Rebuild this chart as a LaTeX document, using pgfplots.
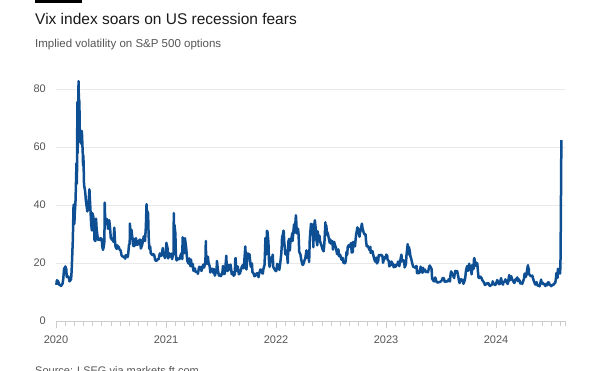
\documentclass[border=0pt]{standalone}
\usepackage{pgfplots}
\pgfplotsset{compat=1.18}
\usepackage{pgfplotstable}
\usepackage{fontspec}
\setmainfont{Liberation Sans}
\definecolor{ftblue}{HTML}{0E4F94}
\definecolor{titlecol}{HTML}{1A1A1A}
\definecolor{subcol}{HTML}{555555}
\definecolor{tickcol}{HTML}{555555}
\definecolor{gridcol}{HTML}{E8E8E8}
\definecolor{axcol}{HTML}{CCCCCC}

\pgfplotstableread{
x y
2020.003 12.47
2020.008 14.02
2020.016 13.85
2020.022 13.45
2020.027 12.56
2020.038 12.39
2020.046 12.10
2020.060 12.91
2020.066 14.56
2020.074 18.23
2020.079 16.39
2020.085 18.84
2020.093 17.97
2020.098 15.15
2020.104 15.47
2020.115 15.18
2020.123 13.68
2020.137 14.38
2020.142 17.08
2020.150 25.03
2020.153 27.85
2020.159 39.16
2020.161 40.11
2020.167 33.42
2020.170 36.82
2020.175 39.62
2020.178 41.94
2020.186 54.46
2020.189 47.30
2020.192 53.90
2020.194 75.47
2020.197 57.83
2020.205 82.69
2020.208 75.91
2020.211 76.45
2020.214 72.00
2020.216 66.04
2020.224 61.59
2020.227 61.67
2020.233 61.00
2020.235 65.54
2020.244 57.08
2020.246 53.54
2020.249 57.06
2020.255 46.80
2020.263 45.24
2020.268 43.35
2020.271 41.67
2020.285 37.76
2020.290 40.11
2020.293 38.15
2020.301 43.83
2020.304 45.41
2020.309 41.38
2020.320 33.29
2020.326 31.23
2020.331 37.19
2020.339 35.97
2020.345 34.12
2020.350 27.98
2020.358 27.57
2020.364 35.28
2020.369 31.89
2020.377 29.30
2020.383 27.99
2020.388 28.16
2020.399 27.91
2020.405 28.59
2020.416 28.23
2020.421 25.66
2020.427 24.52
2020.435 25.81
2020.440 27.57
2020.443 40.79
2020.446 36.09
2020.454 34.40
2020.460 33.47
2020.465 35.12
2020.473 31.77
2020.479 33.84
2020.484 34.73
2020.492 31.78
2020.498 28.62
2020.511 27.94
2020.517 28.08
2020.522 27.29
2020.530 32.19
2020.536 27.76
2020.541 25.68
2020.552 24.84
2020.558 26.08
2020.560 25.84
2020.571 25.44
2020.577 24.76
2020.588 24.28
2020.596 22.65
2020.607 22.13
2020.613 22.28
2020.618 22.05
2020.629 21.51
2020.634 22.72
2020.645 22.37
2020.651 22.03
2020.656 22.96
2020.664 26.41
2020.670 26.57
2020.672 33.60
2020.675 30.75
2020.686 31.46
2020.691 29.71
2020.702 25.85
2020.708 28.25
2020.713 25.83
2020.721 27.78
2020.727 28.58
2020.732 26.38
2020.743 26.27
2020.749 26.70
2020.752 27.63
2020.760 27.96
2020.766 28.06
2020.771 25.00
2020.782 26.07
2020.787 26.97
2020.798 29.18
2020.804 28.65
2020.809 27.55
2020.817 32.46
2020.823 40.28
2020.826 37.59
2020.828 38.02
2020.837 37.13
2020.842 29.57
2020.848 24.86
2020.856 25.75
2020.861 23.45
2020.867 23.10
2020.878 22.71
2020.883 23.11
2020.894 22.66
2020.900 21.25
2020.905 20.84
2020.916 20.77
2020.922 21.28
2020.933 21.30
2020.938 22.27
2020.944 23.31
2020.955 22.50
2020.960 22.49
2020.971 25.16
2020.977 23.31
2020.990 21.70
2020.999 22.75
2021.003 26.97
2021.014 25.07
2021.019 21.56
2021.030 23.33
2021.036 22.21
2021.049 23.24
2021.055 21.32
2021.066 23.19
2021.068 23.02
2021.071 37.21
2021.074 30.21
2021.077 33.09
2021.085 30.24
2021.090 22.91
2021.096 20.87
2021.107 21.63
2021.112 21.25
2021.126 21.46
2021.131 22.49
2021.142 23.45
2021.148 21.34
2021.151 28.89
2021.153 27.95
2021.164 23.35
2021.170 26.67
2021.172 28.57
2021.183 25.47
2021.189 22.56
2021.194 20.69
2021.205 19.79
2021.211 21.58
2021.222 18.88
2021.227 21.20
2021.233 18.86
2021.244 19.61
2021.249 17.33
2021.263 18.12
2021.268 16.95
2021.279 16.91
2021.285 16.99
2021.290 16.25
2021.301 18.68
2021.307 18.71
2021.318 17.64
2021.323 17.28
2021.329 18.61
2021.340 19.48
2021.345 18.39
2021.356 19.66
2021.359 21.84
2021.362 27.59
2021.364 23.13
2021.375 19.72
2021.381 22.18
2021.386 20.15
2021.397 18.84
2021.403 16.74
2021.416 17.90
2021.422 18.04
2021.433 16.42
2021.438 17.89
2021.444 15.65
2021.455 17.02
2021.460 17.75
2021.463 20.70
2021.471 17.89
2021.477 16.32
2021.482 15.62
2021.493 16.02
2021.499 15.48
2021.512 16.44
2021.518 19.00
2021.529 16.17
2021.534 16.33
2021.540 18.45
2021.548 22.50
2021.553 17.91
2021.559 17.20
2021.570 19.36
2021.575 17.70
2021.586 19.46
2021.592 17.97
2021.597 16.15
2021.608 16.79
2021.614 15.59
2021.625 16.12
2021.630 21.57
2021.633 21.67
2021.636 18.56
2021.647 17.22
2021.652 18.84
2021.663 16.11
2021.671 16.41
2021.685 18.06
2021.690 18.80
2021.701 19.37
2021.707 18.18
2021.712 20.81
2021.721 25.71
2021.726 20.87
2021.731 17.75
2021.742 23.25
2021.748 23.14
2021.759 22.96
2021.764 21.00
2021.770 18.77
2021.781 19.85
2021.786 16.86
2021.797 16.30
2021.803 15.49
2021.808 15.43
2021.819 15.98
2021.825 16.53
2021.836 16.41
2021.841 15.10
2021.847 16.48
2021.858 17.78
2021.863 17.66
2021.874 16.49
2021.880 16.35
2021.885 17.91
2021.896 19.38
2021.904 28.62
2021.912 22.96
2021.915 27.19
2021.918 31.12
2021.923 30.67
2021.931 27.18
2021.937 19.90
2021.942 18.69
2021.953 21.89
2021.959 20.57
2021.970 22.87
2021.975 18.63
2021.989 17.68
2021.999 17.22
2022.003 17.22
2022.011 19.73
2022.016 18.76
2022.025 19.40
2022.030 17.62
2022.036 19.19
2022.047 22.79
2022.052 25.59
2022.055 28.85
2022.063 29.90
2022.068 31.16
2022.071 30.49
2022.074 27.66
2022.085 22.96
2022.090 24.35
2022.101 22.86
2022.107 19.96
2022.112 27.36
2022.120 28.33
2022.126 24.29
2022.131 27.75
2022.142 28.81
2022.148 30.32
2022.150 27.59
2022.164 33.32
2022.170 30.48
2022.181 36.45
2022.183 35.13
2022.189 30.23
2022.200 31.77
2022.205 29.87
2022.211 23.87
2022.222 22.94
2022.227 21.67
2022.238 19.63
2022.244 19.33
2022.249 19.63
2022.260 21.03
2022.266 21.55
2022.277 24.37
2022.282 21.82
2022.296 22.17
2022.301 20.32
2022.307 28.21
2022.318 33.52
2022.323 29.99
2022.326 33.40
2022.334 32.34
2022.340 25.42
2022.342 31.20
2022.353 34.75
2022.359 32.56
2022.364 28.87
2022.375 26.10
2022.378 30.96
2022.384 29.43
2022.395 29.45
2022.400 27.50
2022.416 25.69
2022.422 24.79
2022.433 24.02
2022.438 26.09
2022.441 27.75
2022.449 34.02
2022.455 29.62
2022.458 32.95
2022.460 31.13
2022.471 30.19
2022.477 29.05
2022.488 26.95
2022.493 28.16
2022.499 26.70
2022.512 27.54
2022.518 24.64
2022.529 27.29
2022.534 26.40
2022.545 25.30
2022.551 23.88
2022.556 23.03
2022.567 24.69
2022.573 22.33
2022.584 22.84
2022.589 21.95
2022.595 21.15
2022.606 21.77
2022.611 20.20
2022.622 19.95
2022.628 19.90
2022.633 20.60
2022.641 23.80
2022.647 22.82
2022.652 25.56
2022.663 26.21
2022.669 25.56
2022.682 26.91
2022.688 23.61
2022.699 23.87
2022.701 27.27
2022.707 26.27
2022.718 25.76
2022.723 27.99
2022.729 29.92
2022.740 32.27
2022.745 31.84
2022.748 31.62
2022.759 29.07
2022.764 30.52
2022.775 32.45
2022.781 33.57
2022.786 32.02
2022.797 30.50
2022.803 29.98
2022.814 29.85
2022.819 27.28
2022.825 25.75
2022.836 25.86
2022.841 25.30
2022.852 24.35
2022.858 25.54
2022.860 23.53
2022.871 23.73
2022.877 24.11
2022.882 23.12
2022.893 21.36
2022.901 20.50
2022.912 21.89
2022.918 19.84
2022.929 20.75
2022.934 22.68
2022.940 22.83
2022.951 22.55
2022.956 22.83
2022.967 22.42
2022.973 20.07
2022.978 20.87
2022.992 22.14
2022.997 21.67
2023.003 22.90
2023.011 22.46
2023.014 21.13
2023.025 20.70
2023.030 18.83
2023.044 19.36
2023.049 20.52
2023.060 19.81
2023.066 19.08
2023.071 18.51
2023.082 19.40
2023.088 18.73
2023.099 19.43
2023.104 19.63
2023.110 20.53
2023.121 18.91
2023.126 20.17
2023.140 22.87
2023.145 20.56
2023.156 20.95
2023.164 20.58
2023.170 18.49
2023.181 19.59
2023.186 22.61
2023.197 26.52
2023.200 23.73
2023.205 22.99
2023.208 25.51
2023.216 24.12
2023.222 22.26
2023.227 21.74
2023.238 19.97
2023.247 18.70
2023.258 18.58
2023.263 18.40
2023.277 18.97
2023.282 16.46
2023.293 17.07
2023.299 16.46
2023.304 16.77
2023.315 18.76
2023.321 17.03
2023.332 16.66
2023.337 18.34
2023.343 17.19
2023.354 17.71
2023.359 16.93
2023.370 17.12
2023.375 16.87
2023.381 16.81
2023.392 18.53
2023.397 19.14
2023.414 17.94
2023.419 14.60
2023.430 13.96
2023.436 13.65
2023.447 15.01
2023.452 14.50
2023.458 13.54
2023.471 13.20
2023.477 13.44
2023.488 13.43
2023.496 13.59
2023.510 14.18
2023.515 14.83
2023.526 14.78
2023.532 13.61
2023.543 13.48
2023.548 13.76
2023.554 13.60
2023.565 13.86
2023.570 14.41
2023.581 13.63
2023.586 15.88
2023.592 17.10
2023.603 15.99
2023.608 15.85
2023.619 14.82
2023.625 16.46
2023.630 17.30
2023.641 16.97
2023.647 17.20
2023.658 15.08
2023.663 13.88
2023.669 13.09
2023.682 14.45
2023.688 13.84
2023.699 14.23
2023.704 12.82
2023.715 14.00
2023.721 15.14
2023.726 17.20
2023.737 18.94
2023.743 17.34
2023.753 17.61
2023.756 19.78
2023.762 18.49
2023.773 17.70
2023.778 16.09
2023.784 19.32
2023.795 17.88
2023.800 21.40
2023.803 21.71
2023.814 18.97
2023.819 20.19
2023.830 19.75
2023.836 16.87
2023.841 14.91
2023.852 14.81
2023.858 15.29
2023.869 14.76
2023.874 14.18
2023.880 13.80
2023.890 13.35
2023.899 12.46
2023.910 12.69
2023.915 12.92
2023.926 13.08
2023.932 12.97
2023.937 12.35
2023.948 12.07
2023.954 12.48
2023.965 12.56
2023.970 13.67
2023.976 13.03
2023.989 12.43
2023.995 12.45
2024.003 13.20
2024.011 14.13
2024.022 13.08
2024.027 12.69
2024.033 12.70
2024.046 14.79
2024.052 13.30
2024.063 12.55
2024.068 13.45
2024.079 13.60
2024.085 14.35
2024.090 13.85
2024.101 13.06
2024.107 12.79
2024.120 15.85
2024.126 14.01
2024.139 15.42
2024.145 14.54
2024.156 13.74
2024.161 13.43
2024.167 13.11
2024.178 14.46
2024.183 14.44
2024.194 15.02
2024.199 13.75
2024.205 14.41
2024.216 13.82
2024.221 12.92
2024.232 13.19
2024.238 12.78
2024.254 14.61
2024.260 16.35
2024.270 15.19
2024.276 15.80
2024.281 17.31
2024.290 19.23
2024.292 18.40
2024.298 18.00
2024.300 16.14
2024.311 15.69
2024.317 15.37
2024.330 15.65
2024.336 14.68
2024.347 13.49
2024.352 13.00
2024.358 12.55
2024.369 13.42
2024.374 12.42
2024.385 12.15
2024.391 12.29
2024.396 11.93
2024.410 14.28
2024.415 12.92
2024.426 13.16
2024.432 12.58
2024.443 12.74
2024.448 12.04
2024.454 12.66
2024.464 12.30
2024.470 13.28
2024.481 13.33
2024.486 12.55
2024.492 12.44
2024.503 12.03
2024.511 12.48
2024.522 12.41
2024.527 12.85
2024.538 13.12
2024.544 14.48
2024.549 16.52
2024.560 14.91
2024.563 18.04
2024.568 16.39
2024.579 17.69
2024.582 16.36
2024.585 18.59
2024.587 23.39
2024.594 62.40
}\vixdata

\begin{document}
\begin{tikzpicture}[x=1pt,y=1pt]
\useasboundingbox (0,0) rectangle (600,370);
\fill[black] (35,367) rectangle (82,370);
\node[anchor=base west, inner sep=0pt, text=titlecol, font=\fontsize{15.5}{18}\selectfont] at (35,345) {Vix index soars on US recession fears};
\node[anchor=base west, inner sep=0pt, text=subcol, font=\fontsize{11.5}{14}\selectfont] at (35,322) {Implied volatility on S\&P 500 options};
\node[anchor=base west, inner sep=0pt, text=subcol, font=\fontsize{11}{13}\selectfont] at (35,-4) {Source: LSEG via markets.ft.com};
\begin{axis}[
  at={(56pt,49pt)}, anchor=south west,
  width=509pt, height=246.5pt, scale only axis,
  xmin=2020, xmax=2024.627, ymin=0, ymax=85,
  clip=false,
  axis x line*=bottom, axis y line*=left,
  y axis line style={draw=none},
  x axis line style={draw=axcol, line width=0.8pt, -},
  xtick={2020,2021,2022,2023,2024},
  xticklabels={2020,2021,2022,2023,2024},
  minor xtick={2020.0833,2020.1667,2020.25,2020.3333,2020.4167,2020.5,2020.5833,2020.6667,2020.75,2020.8333,2020.9167,
               2021.0833,2021.1667,2021.25,2021.3333,2021.4167,2021.5,2021.5833,2021.6667,2021.75,2021.8333,2021.9167,
               2022.0833,2022.1667,2022.25,2022.3333,2022.4167,2022.5,2022.5833,2022.6667,2022.75,2022.8333,2022.9167,
               2023.0833,2023.1667,2023.25,2023.3333,2023.4167,2023.5,2023.5833,2023.6667,2023.75,2023.8333,2023.9167,
               2024.0833,2024.1667,2024.25,2024.3333,2024.4167,2024.5,2024.5833,2024.627},
  ytick={0,20,40,60,80},
  ytick style={draw=none},
  tick align=outside,
  major tick length=7pt, minor tick length=5pt,
  xtick style={draw=axcol, line width=0.7pt},
  minor tick style={draw=axcol, line width=0.7pt},
  ymajorgrids, grid style={draw=gridcol, line width=0.8pt},
  /pgf/number format/assume math mode=true,
  ticklabel style={font=\fontsize{11}{13}\selectfont, text=tickcol},
  yticklabel style={anchor=east, inner sep=0pt, xshift=-3pt},
  xticklabel style={anchor=north, inner sep=0pt},
  xticklabel shift=7.5pt,
]
\addplot[ftblue, line width=2.5pt, line join=round] table[x=x, y=y] {\vixdata};
\end{axis}
\end{tikzpicture}
\end{document}
